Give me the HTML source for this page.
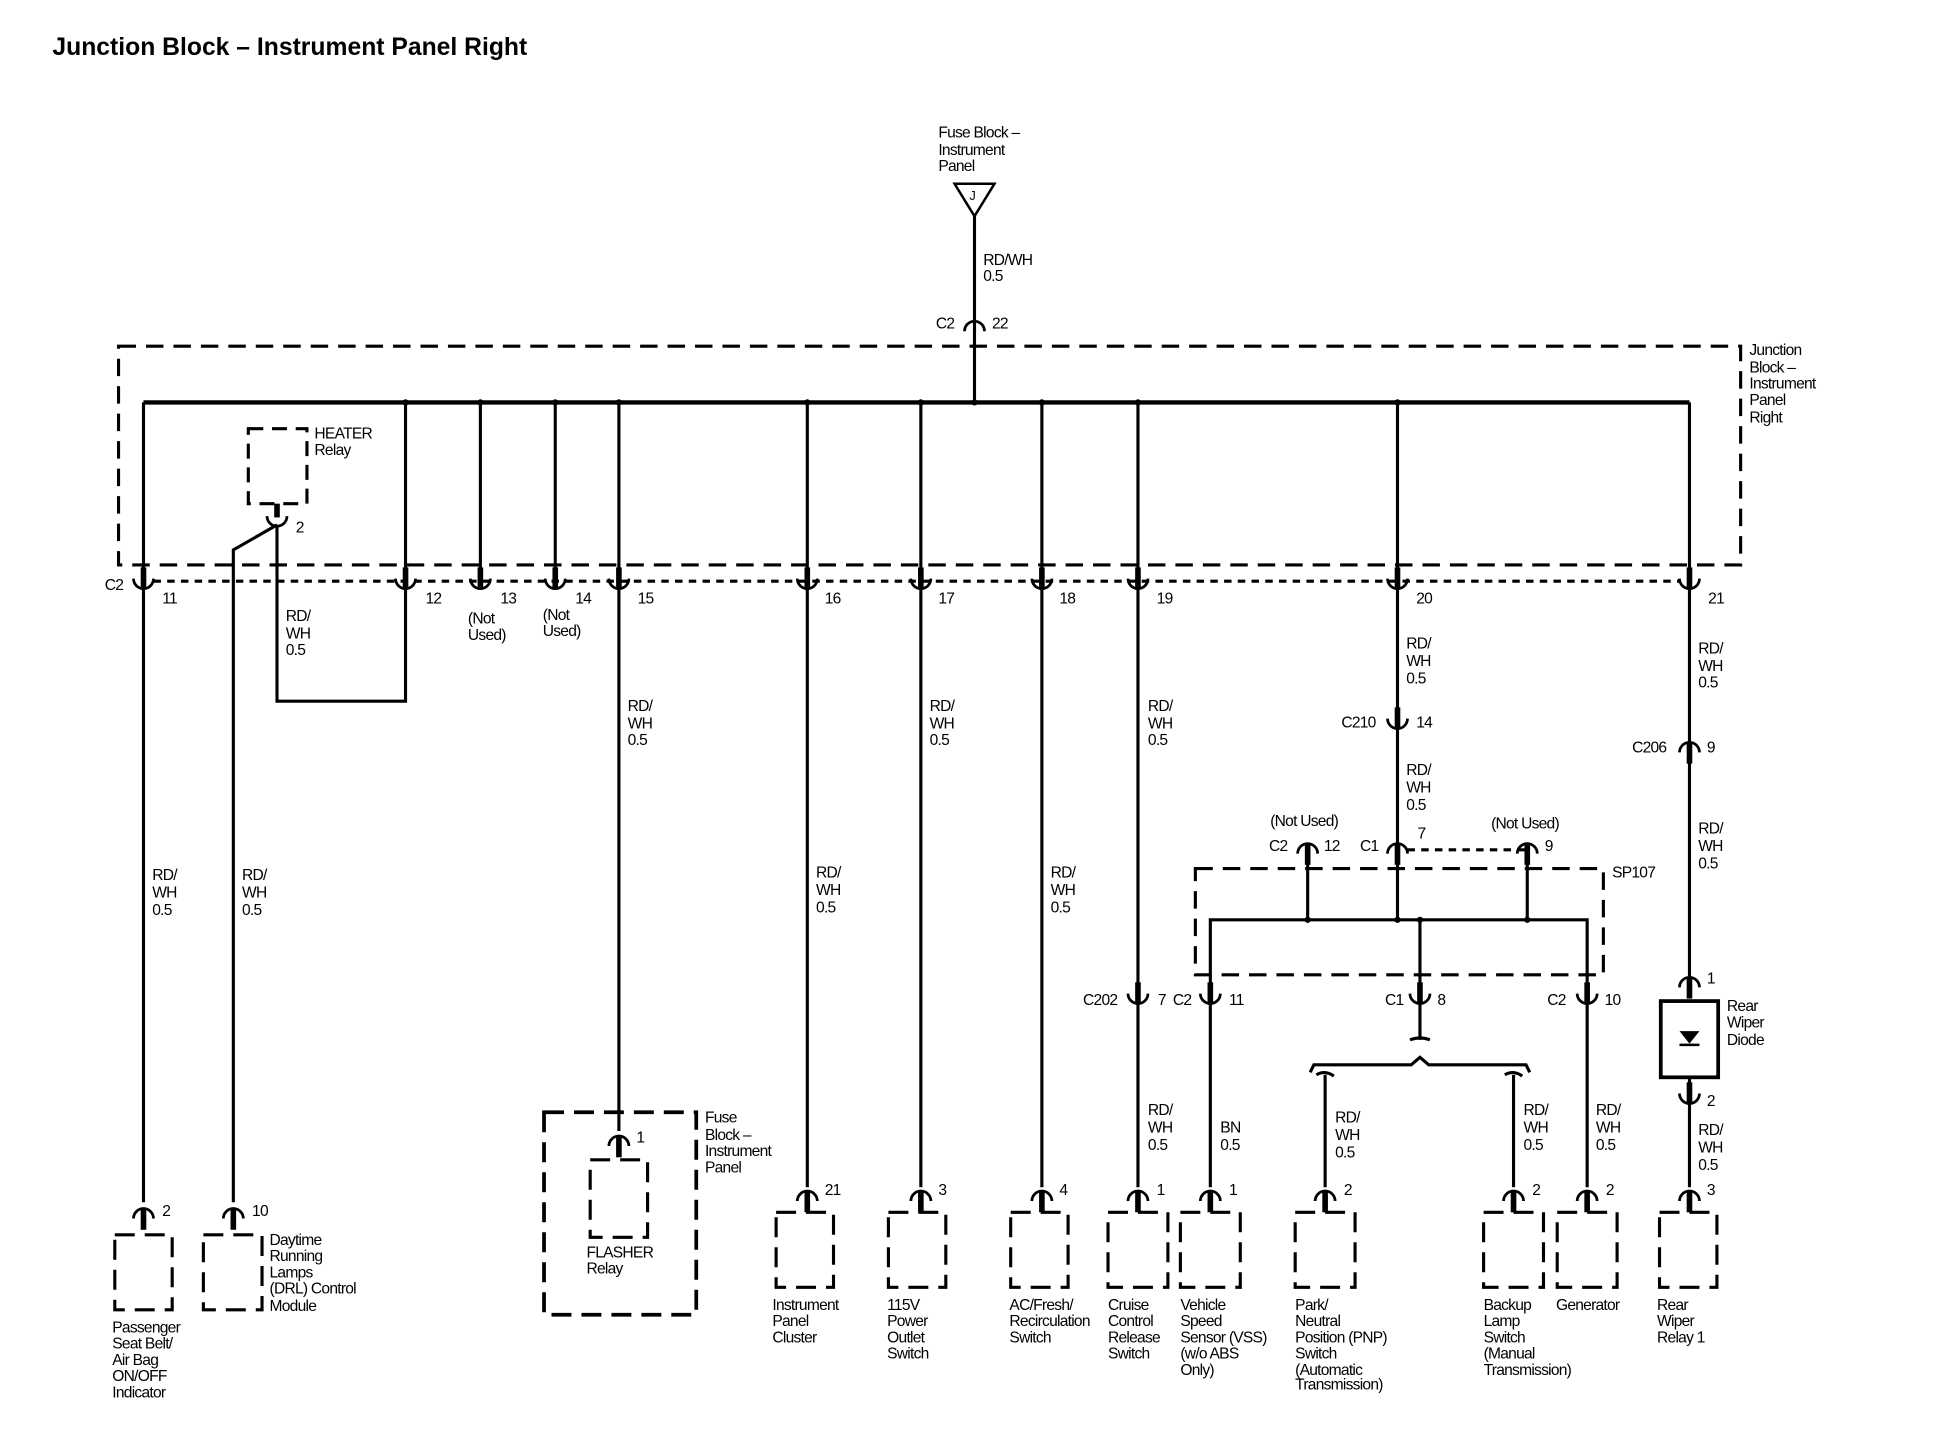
<!DOCTYPE html>
<html><head><meta charset="utf-8"><style>
html,body{margin:0;padding:0;background:#fff;}
svg{display:block}
text{font-family:"Liberation Sans",Arial,sans-serif;font-size:12.5px;fill:#000;letter-spacing:-0.6px}
.t{font-weight:bold;font-size:19.8px;letter-spacing:0}
</style></head><body>
<svg width="1954" height="1456" viewBox="0 0 1566 1165" preserveAspectRatio="none" xmlns="http://www.w3.org/2000/svg">
<defs>
<g id="u"><path d="M-8,-5 A8,8 0 0 0 8,-5" fill="none" stroke="#000" stroke-width="2.2"/><line x1="0" y1="-14" x2="0" y2="3" stroke="#000" stroke-width="4.5"/></g>
<g id="n"><path d="M-8,5 A8,8 0 0 1 8,5" fill="none" stroke="#000" stroke-width="2.2"/><line x1="0" y1="-3" x2="0" y2="14" stroke="#000" stroke-width="4.5"/></g>
</defs>
<text class="t" x="42" y="44">Junction Block – Instrument Panel Right</text>

<text x="752" y="110">Fuse Block –</text><text x="752" y="124">Instrument</text><text x="752" y="137">Panel</text>
<path d="M765,147 L797,147 L781,173 Z" fill="none" stroke="#000" stroke-width="2"/>
<text x="777" y="160" style="font-size:10px">J</text>
<line x1="781" y1="173" x2="781" y2="322" stroke="#000" stroke-width="2.5"/>
<text x="788" y="212">RD/WH</text><text x="788" y="225">0.5</text>
<path d="M773,265 A8,8 0 0 1 789,265" fill="none" stroke="#000" stroke-width="2.2"/>
<text x="750" y="263">C2</text><text x="795" y="263">22</text>

<rect x="95" y="277" width="1300" height="175" fill="none" stroke="#000" stroke-width="2.5" stroke-dasharray="14,8"/>
<text x="1402" y="284">Junction</text><text x="1402" y="298">Block –</text><text x="1402" y="311">Instrument</text><text x="1402" y="324">Panel</text><text x="1402" y="338">Right</text>

<g stroke="#000" stroke-width="2.5" fill="none">
<line x1="115" y1="322" x2="1354" y2="322" stroke-width="3.5"/>
<line x1="115" y1="322" x2="115" y2="458"/>
<line x1="325" y1="322" x2="325" y2="458"/>
<line x1="385" y1="322" x2="385" y2="458"/>
<line x1="445" y1="322" x2="445" y2="458"/>
<line x1="496" y1="322" x2="496" y2="458"/>
<line x1="647" y1="322" x2="647" y2="458"/>
<line x1="738" y1="322" x2="738" y2="458"/>
<line x1="835" y1="322" x2="835" y2="458"/>
<line x1="912" y1="322" x2="912" y2="458"/>
<line x1="1120" y1="322" x2="1120" y2="458"/>
<line x1="1354" y1="322" x2="1354" y2="458"/>
<line x1="123" y1="465" x2="1346" y2="465" stroke-width="2.5" stroke-dasharray="6,5"/>
<rect x="199" y="343" width="47" height="60" stroke-dasharray="12,7"/>
<polyline points="222,420 222,561 325,561 325,470"/>
<polyline points="222,420 187,440 187,962"/>
<line x1="115" y1="470" x2="115" y2="962"/>
<line x1="496" y1="470" x2="496" y2="905"/>
<line x1="647" y1="470" x2="647" y2="950"/>
<line x1="738" y1="470" x2="738" y2="950"/>
<line x1="835" y1="470" x2="835" y2="950"/>
<line x1="912" y1="470" x2="912" y2="950"/>
<line x1="1120" y1="470" x2="1120" y2="736"/>
<line x1="1354" y1="470" x2="1354" y2="782"/>
<rect x="958" y="695" width="327" height="85" stroke-dasharray="14,8"/>
<line x1="1048" y1="680" x2="1048" y2="736"/>
<line x1="1224" y1="680" x2="1224" y2="736"/>
<line x1="1128" y1="680" x2="1224" y2="680" stroke-dasharray="6,5"/>
<polyline points="970,950 970,736 1272,736 1272,950"/>
<line x1="1138" y1="736" x2="1138" y2="832"/>
<path d="M1130,832 q8,-3 16,0"/>
<path d="M1050,858 l3,-6 h78 l7,-6 l7,6 h78 l3,6"/>
<line x1="1062" y1="860" x2="1062" y2="950"/>
<line x1="1213" y1="860" x2="1213" y2="950"/>
<path d="M1055,860 q7,-4 14,1"/><path d="M1206,860 q7,-4 14,1"/>
<rect x="1331" y="801" width="46" height="61" stroke-width="3"/>
<line x1="1354" y1="862" x2="1354" y2="950"/>
<g stroke-dasharray="16,8">
<rect x="92" y="988" width="46" height="60"/>
<rect x="163" y="988" width="47" height="60"/>
<rect x="436" y="890" width="122" height="162" stroke-width="3"/>
<rect x="473" y="928" width="46" height="62"/>
<rect x="622" y="970" width="46" height="60"/>
<rect x="712" y="970" width="46" height="60"/>
<rect x="810" y="970" width="46" height="60"/>
<rect x="888" y="970" width="48" height="60"/>
<rect x="946" y="970" width="48" height="60"/>
<rect x="1038" y="970" width="48" height="60"/>
<rect x="1189" y="970" width="48" height="60"/>
<rect x="1248" y="970" width="48" height="60"/>
<rect x="1330" y="970" width="46" height="60"/>
</g>
</g>
<path d="M1346,825 h16 l-8,10 z" fill="#000"/><line x1="1346" y1="836" x2="1362" y2="836" stroke="#000" stroke-width="2"/>
<g fill="#000">
<circle cx="325" cy="322" r="2.5"/><circle cx="385" cy="322" r="2.5"/><circle cx="445" cy="322" r="2.5"/><circle cx="496" cy="322" r="2.5"/><circle cx="647" cy="322" r="2.5"/><circle cx="738" cy="322" r="2.5"/><circle cx="781" cy="322" r="2.5"/><circle cx="835" cy="322" r="2.5"/><circle cx="912" cy="322" r="2.5"/><circle cx="1120" cy="322" r="2.5"/>
<circle cx="1048" cy="736" r="2.5"/><circle cx="1120" cy="736" r="2.5"/><circle cx="1138" cy="736" r="2.5"/><circle cx="1224" cy="736" r="2.5"/>
</g>
<line x1="222" y1="403" x2="222" y2="414" stroke="#000" stroke-width="4.5"/>
<path d="M214,413 A8,8 0 0 0 230,413" fill="none" stroke="#000" stroke-width="2.2"/>
<use href="#u" x="115" y="468"/><use href="#u" x="325" y="468"/><use href="#u" x="385" y="468"/><use href="#u" x="445" y="468"/><use href="#u" x="496" y="468"/><use href="#u" x="647" y="468"/><use href="#u" x="738" y="468"/><use href="#u" x="835" y="468"/><use href="#u" x="912" y="468"/><use href="#u" x="1120" y="468"/><use href="#u" x="1354" y="468"/>
<use href="#u" x="1120" y="580"/><use href="#u" x="912" y="800"/><use href="#u" x="970" y="800"/><use href="#u" x="1138" y="800"/><use href="#u" x="1272" y="800"/><use href="#u" x="1354" y="880"/>
<use href="#n" x="1354" y="597"/><use href="#n" x="1048" y="678"/><use href="#n" x="1120" y="678"/><use href="#n" x="1224" y="678"/><use href="#n" x="1354" y="785"/>
<use href="#n" x="115" y="970"/><use href="#n" x="187" y="970"/><use href="#n" x="496" y="912"/><use href="#n" x="647" y="956"/><use href="#n" x="738" y="956"/><use href="#n" x="835" y="956"/><use href="#n" x="912" y="956"/><use href="#n" x="970" y="956"/><use href="#n" x="1062" y="956"/><use href="#n" x="1213" y="956"/><use href="#n" x="1272" y="956"/><use href="#n" x="1354" y="956"/>

<text x="84" y="472">C2</text>
<text x="130" y="483">11</text><text x="341" y="483">12</text><text x="401" y="483">13</text><text x="461" y="483">14</text><text x="511" y="483">15</text><text x="661" y="483">16</text><text x="752" y="483">17</text><text x="849" y="483">18</text><text x="927" y="483">19</text><text x="1135" y="483">20</text><text x="1369" y="483">21</text>
<text x="375" y="499">(Not</text><text x="375" y="512">Used)</text><text x="435" y="496">(Not</text><text x="435" y="509">Used)</text>
<text x="252" y="351">HEATER</text><text x="252" y="364">Relay</text><text x="237" y="426">2</text>
<g>
<text x="229" y="497">RD/</text><text x="229" y="511">WH</text><text x="229" y="524">0.5</text>
<text x="122" y="704">RD/</text><text x="122" y="718">WH</text><text x="122" y="732">0.5</text>
<text x="194" y="704">RD/</text><text x="194" y="718">WH</text><text x="194" y="732">0.5</text>
<text x="503" y="569">RD/</text><text x="503" y="583">WH</text><text x="503" y="596">0.5</text>
<text x="654" y="702">RD/</text><text x="654" y="716">WH</text><text x="654" y="730">0.5</text>
<text x="745" y="569">RD/</text><text x="745" y="583">WH</text><text x="745" y="596">0.5</text>
<text x="842" y="702">RD/</text><text x="842" y="716">WH</text><text x="842" y="730">0.5</text>
<text x="920" y="569">RD/</text><text x="920" y="583">WH</text><text x="920" y="596">0.5</text>
<text x="1127" y="519">RD/</text><text x="1127" y="533">WH</text><text x="1127" y="547">0.5</text>
<text x="1127" y="620">RD/</text><text x="1127" y="634">WH</text><text x="1127" y="648">0.5</text>
<text x="1361" y="523">RD/</text><text x="1361" y="537">WH</text><text x="1361" y="550">0.5</text>
<text x="1361" y="667">RD/</text><text x="1361" y="681">WH</text><text x="1361" y="695">0.5</text>
<text x="920" y="892">RD/</text><text x="920" y="906">WH</text><text x="920" y="920">0.5</text>
<text x="978" y="906">BN</text><text x="978" y="920">0.5</text>
<text x="1070" y="898">RD/</text><text x="1070" y="912">WH</text><text x="1070" y="926">0.5</text>
<text x="1221" y="892">RD/</text><text x="1221" y="906">WH</text><text x="1221" y="920">0.5</text>
<text x="1279" y="892">RD/</text><text x="1279" y="906">WH</text><text x="1279" y="920">0.5</text>
<text x="1361" y="908">RD/</text><text x="1361" y="922">WH</text><text x="1361" y="936">0.5</text>
</g>
<text x="1075" y="582">C210</text><text x="1135" y="582">14</text>
<text x="1308" y="602">C206</text><text x="1368" y="602">9</text>
<text x="1018" y="661">(Not Used)</text><text x="1195" y="663">(Not Used)</text>
<text x="1017" y="681">C2</text><text x="1061" y="681">12</text><text x="1090" y="681">C1</text><text x="1136" y="671">7</text><text x="1238" y="681">9</text>
<text x="1292" y="702">SP107</text>
<text x="868" y="804">C202</text><text x="928" y="804">7</text><text x="940" y="804">C2</text><text x="985" y="804">11</text>
<text x="1110" y="804">C1</text><text x="1152" y="804">8</text><text x="1240" y="804">C2</text><text x="1286" y="804">10</text>
<text x="1368" y="787">1</text><text x="1368" y="885">2</text>
<text x="1384" y="809">Rear</text><text x="1384" y="822">Wiper</text><text x="1384" y="836">Diode</text>
<text x="130" y="973">2</text><text x="202" y="973">10</text><text x="510" y="914">1</text><text x="661" y="956">21</text><text x="752" y="956">3</text><text x="849" y="956">4</text><text x="927" y="956">1</text><text x="985" y="956">1</text><text x="1077" y="956">2</text><text x="1228" y="956">2</text><text x="1287" y="956">2</text><text x="1368" y="956">3</text>
<text x="90" y="1066">Passenger</text><text x="90" y="1079">Seat Belt/</text><text x="90" y="1092">Air Bag</text><text x="90" y="1105">ON/OFF</text><text x="90" y="1118">Indicator</text>
<text x="216" y="996">Daytime</text><text x="216" y="1009">Running</text><text x="216" y="1022">Lamps</text><text x="216" y="1035">(DRL) Control</text><text x="216" y="1049">Module</text>
<text x="565" y="898">Fuse</text><text x="565" y="912">Block –</text><text x="565" y="925">Instrument</text><text x="565" y="938">Panel</text>
<text x="470" y="1006">FLASHER</text><text x="470" y="1019">Relay</text>
<text x="619" y="1048">Instrument</text><text x="619" y="1061">Panel</text><text x="619" y="1074">Cluster</text>
<text x="711" y="1048">115V</text><text x="711" y="1061">Power</text><text x="711" y="1074">Outlet</text><text x="711" y="1087">Switch</text>
<text x="809" y="1048">AC/Fresh/</text><text x="809" y="1061">Recirculation</text><text x="809" y="1074">Switch</text>
<text x="888" y="1048">Cruise</text><text x="888" y="1061">Control</text><text x="888" y="1074">Release</text><text x="888" y="1087">Switch</text>
<text x="946" y="1048">Vehicle</text><text x="946" y="1061">Speed</text><text x="946" y="1074">Sensor (VSS)</text><text x="946" y="1087">(w/o ABS</text><text x="946" y="1100">Only)</text>
<text x="1038" y="1048">Park/</text><text x="1038" y="1061">Neutral</text><text x="1038" y="1074">Position (PNP)</text><text x="1038" y="1087">Switch</text><text x="1038" y="1100">(Automatic</text><text x="1038" y="1112">Transmission)</text>
<text x="1189" y="1048">Backup</text><text x="1189" y="1061">Lamp</text><text x="1189" y="1074">Switch</text><text x="1189" y="1087">(Manual</text><text x="1189" y="1100">Transmission)</text>
<text x="1247" y="1048">Generator</text>
<text x="1328" y="1048">Rear</text><text x="1328" y="1061">Wiper</text><text x="1328" y="1074">Relay 1</text>
</svg>
</body></html>
